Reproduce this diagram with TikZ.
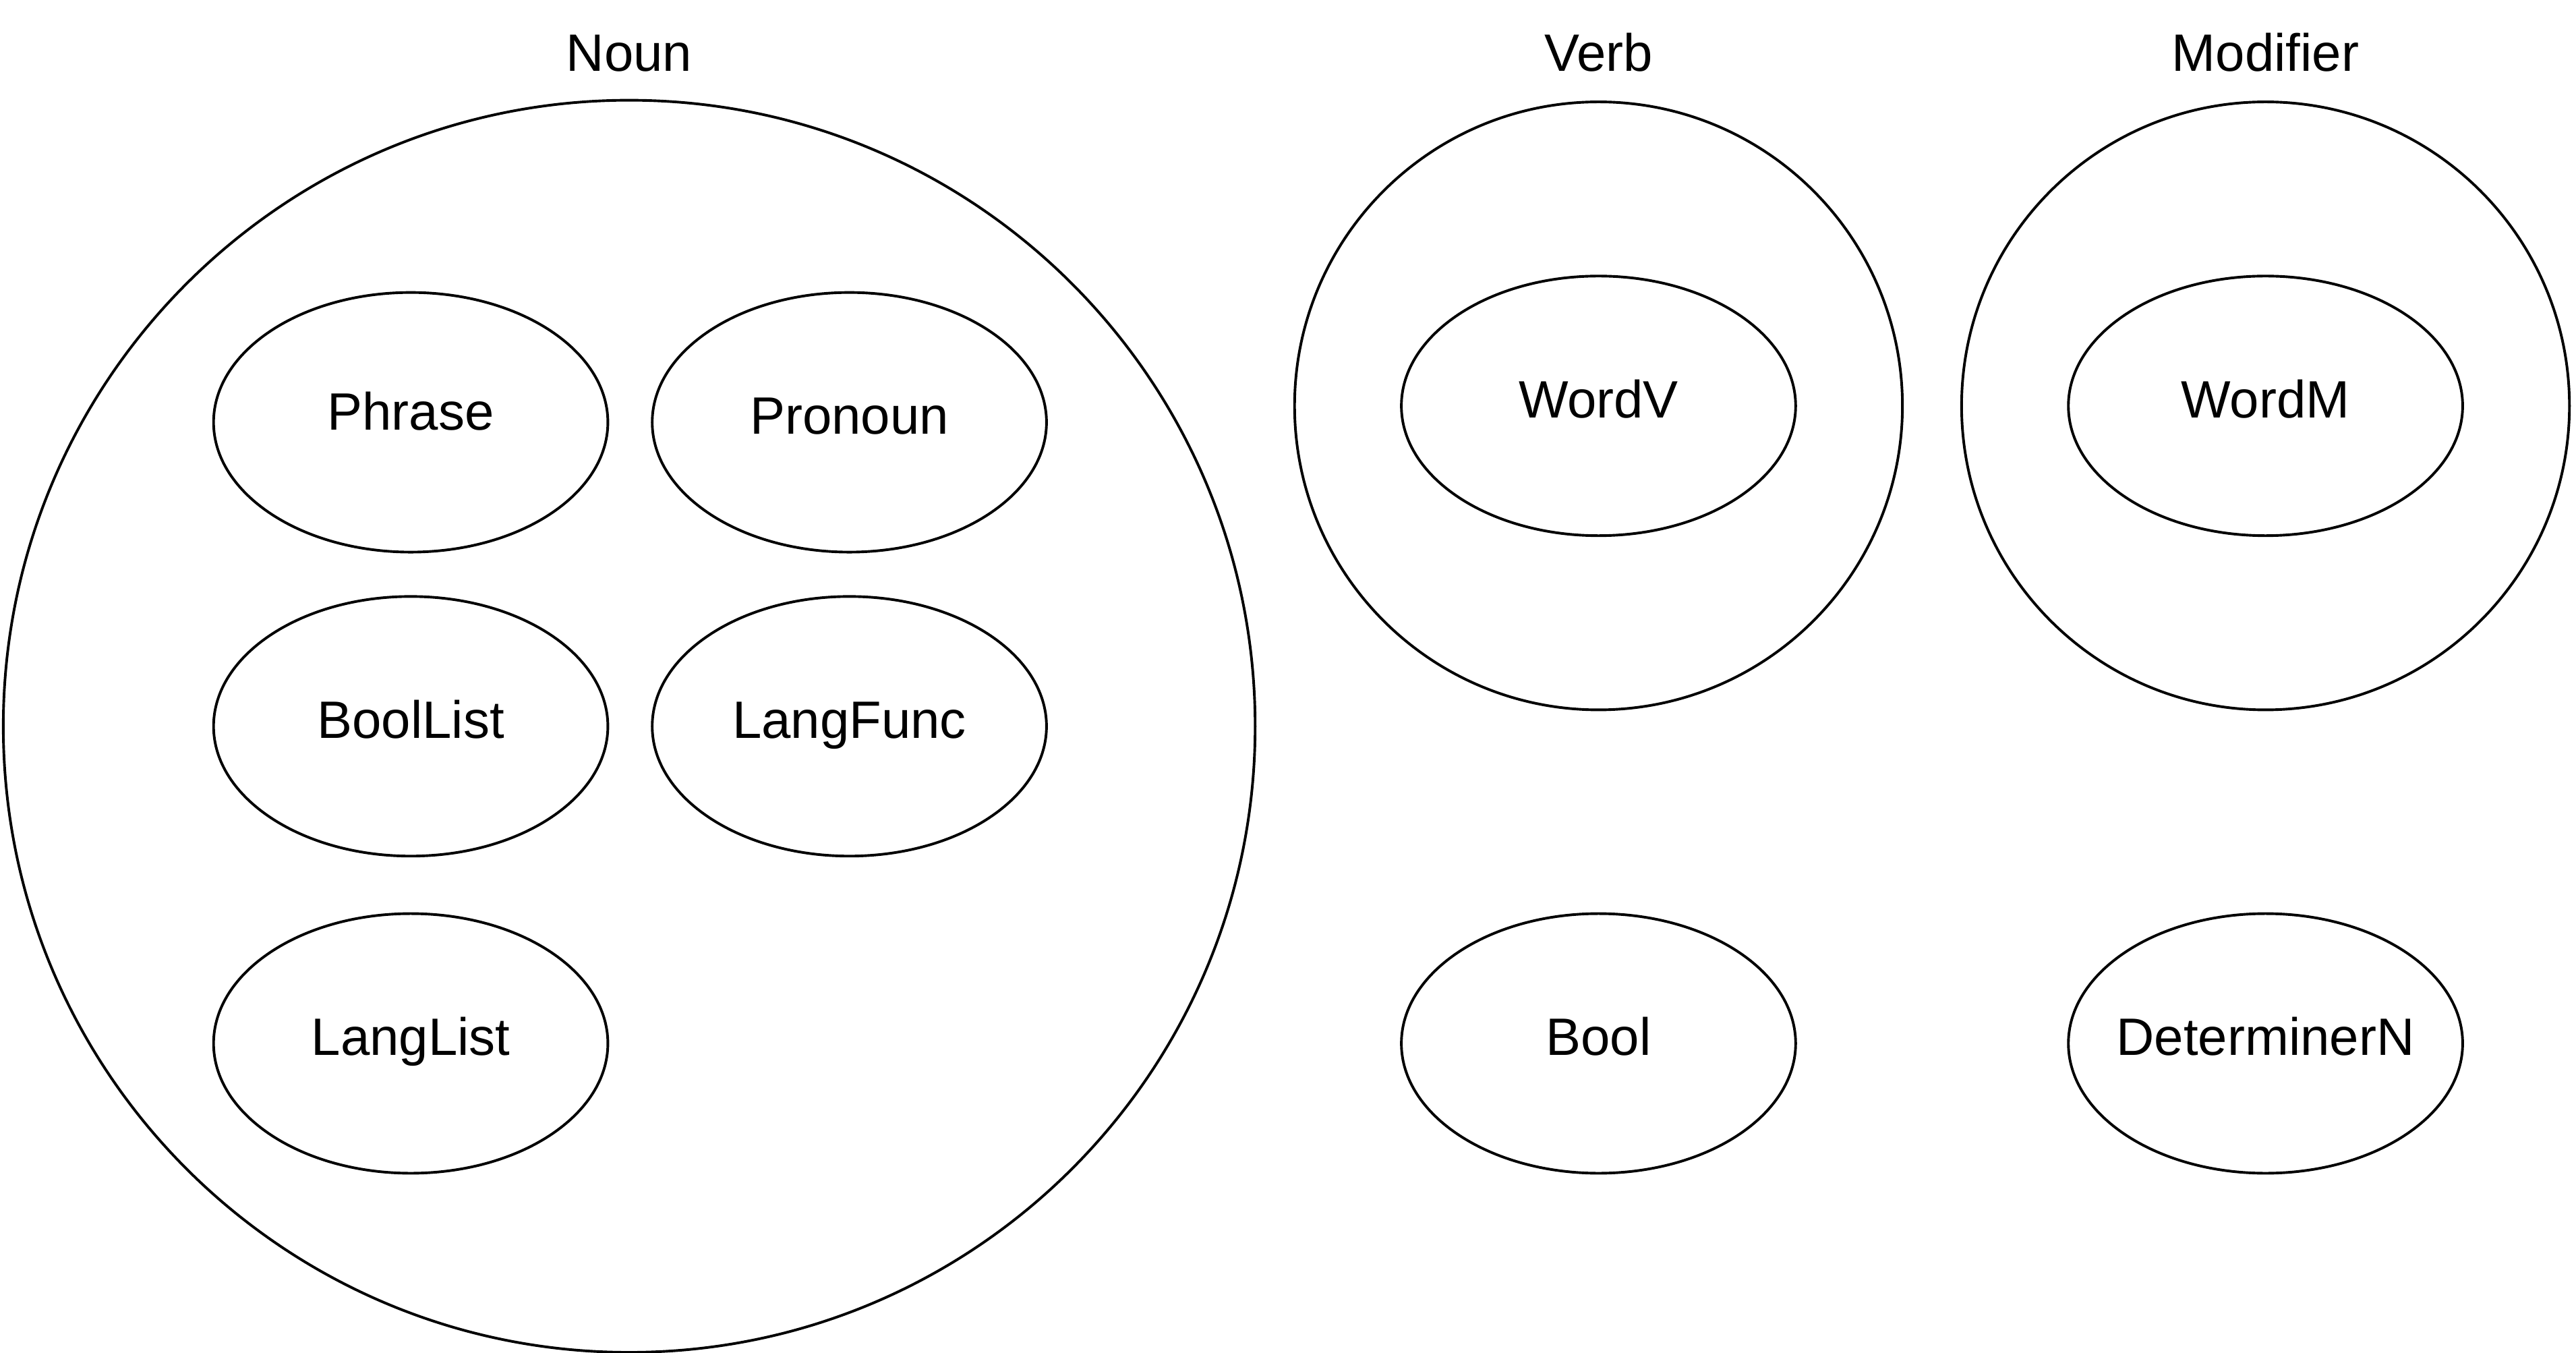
\documentclass[tikz,border=0pt]{standalone}
\usepackage{fontspec}
\setmainfont{Liberation Sans}
\usetikzlibrary{shapes.geometric,positioning}

\begin{document}
\begin{tikzpicture}[x=0.5pt,y=-0.5pt,line width=0.8pt,
                    font=\fontsize{16pt}{19pt}\selectfont]
\useasboundingbox (0,0) rectangle (1568,823);

\begin{scope}[every node/.style={circle,draw,inner sep=0pt}]
    \node[minimum size=381pt] (Noun) at (383,442) {};
    \node[minimum size=185pt] (Verb) at (973,247) {};
    \node[minimum size=185pt] (Mod)  at (1379,247) {};
\end{scope}

\begin{scope}[every node/.style={anchor=base}]
    \node (NounL) at (383,43.5) {Noun};
    \node (VerbL) at (973,43.5) {Verb};
    \node (ModL)  at (1379,43.5) {Modifier};
\end{scope}

\begin{scope}[every node/.style={ellipse,draw,inner sep=0pt,
              minimum width=120pt,minimum height=79pt,
              text height=0.86em,text depth=0.14em}]
    \node[text height=0.74em,text depth=0.26em] (Phrase) at (250,257) {Phrase};
    \node (Pronoun)  at (517,257) {Pronoun};
    \node (BoolList) at (250,442) {BoolList};
    \node (LangFunc) at (517,442) {LangFunc};
    \node (LangList) at (250,635) {LangList};
    \node (WordV)    at (973,247) {WordV};
    \node (WordM)    at (1379,247) {WordM};
    \node (Bool)     at (973,635) {Bool};
    \node[inner xsep=-20pt] (DetN) at (1379,635) {DeterminerN};
\end{scope}
\end{tikzpicture}
\end{document}
